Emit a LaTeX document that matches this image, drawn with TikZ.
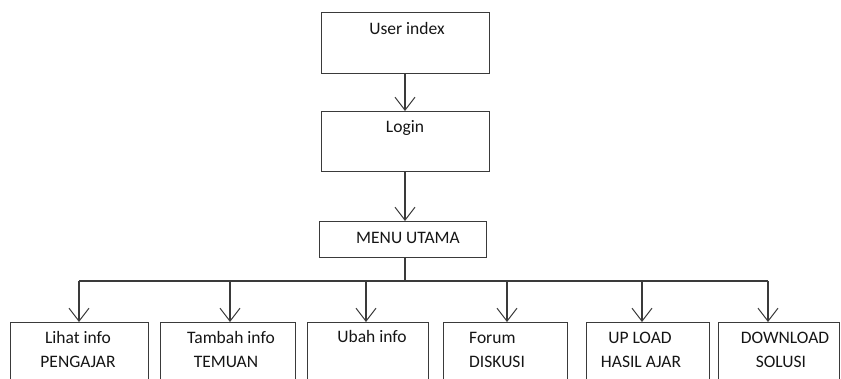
\documentclass[tikz,border=0pt]{standalone}
\usepackage{fontspec}
\setmainfont{Carlito}
\usetikzlibrary{arrows.meta}
\definecolor{ln}{HTML}{3A3A3A}
\definecolor{tx}{HTML}{151515}
\tikzset{
  box/.style={draw=ln, line width=1.3pt, inner sep=0pt, anchor=north west},
  txt/.style={text=tx, font=\fontsize{17.5}{20}\selectfont, inner sep=0pt, anchor=base},
  conn/.style={draw=ln, line width=1.3pt},
  arr/.style={conn, -{Straight Barb[length=13pt,width=20pt,line width=1pt]}}
}
\begin{document}
\begin{tikzpicture}[x=1pt,y=-1pt]
\useasboundingbox (0,0) rectangle (841,379);
\clip (0,0) rectangle (841,379);
% top boxes
\node[box, minimum width=168pt, minimum height=61pt] (ui) at (321,12) {};
\node[box, minimum width=168pt, minimum height=60pt] (lg) at (321,111) {};
\node[box, minimum width=167pt, minimum height=36pt] (mu) at (319,221) {};
\node[txt] (tui) at (407,35) {User index};
\node[txt] (tlg) at (405,133) {Login};
\node[txt] (tmu) at (408,244) {MENU UTAMA};
% bottom boxes
\node[box, minimum width=138pt, minimum height=80pt] (b1) at (10,322) {};
\node[box, minimum width=135pt, minimum height=80pt] (b2) at (160,322) {};
\node[box, minimum width=121pt, minimum height=80pt] (b3) at (307,322) {};
\node[box, minimum width=124pt, minimum height=80pt] (b4) at (443,322) {};
\node[box, minimum width=123pt, minimum height=80pt] (b5) at (586,322) {};
\node[box, minimum width=121pt, minimum height=80pt] (b6) at (718,322) {};
% texts
\node[txt] (t1a) at (78,344) {Lihat info};
\node[txt] (t1b) at (78,367) {PENGAJAR};
\node[txt] (t2a) at (231,344) {Tambah info};
\node[txt] (t2b) at (226,367) {TEMUAN};
\node[txt] (t3a) at (372,343) {Ubah info};
\node[txt, anchor=base west] (t4a) at (469,344) {Forum};
\node[txt, anchor=base west] (t4b) at (469,367) {DISKUSI};
\node[txt] (t5a) at (640,344) {UP LOAD};
\node[txt] (t5b) at (641,367) {HASIL AJAR};
\node[txt] (t6a) at (785,344) {DOWNLOAD};
\node[txt] (t6b) at (781,367) {SOLUSI};
% connectors
\coordinate (hj) at (405,281);
\coordinate (hl) at (79,281);
\coordinate (hr) at (768,281);
\draw[arr] (hj |- ui.south) -- (hj |- lg.north);
\draw[arr] (hj |- lg.south) -- (hj |- mu.north);
\draw[conn] (hj |- mu.south) -- (hj);
\draw[conn] (hl) -- (hr);
\draw[arr] (79,281) -- (b1.north -| 79,0);
\draw[arr] (230,281) -- (b2.north -| 230,0);
\draw[arr] (366,281) -- (b3.north -| 366,0);
\draw[arr] (507,281) -- (b4.north -| 507,0);
\draw[arr] (642,281) -- (b5.north -| 642,0);
\draw[arr] (768,281) -- (b6.north -| 768,0);
\end{tikzpicture}
\end{document}
